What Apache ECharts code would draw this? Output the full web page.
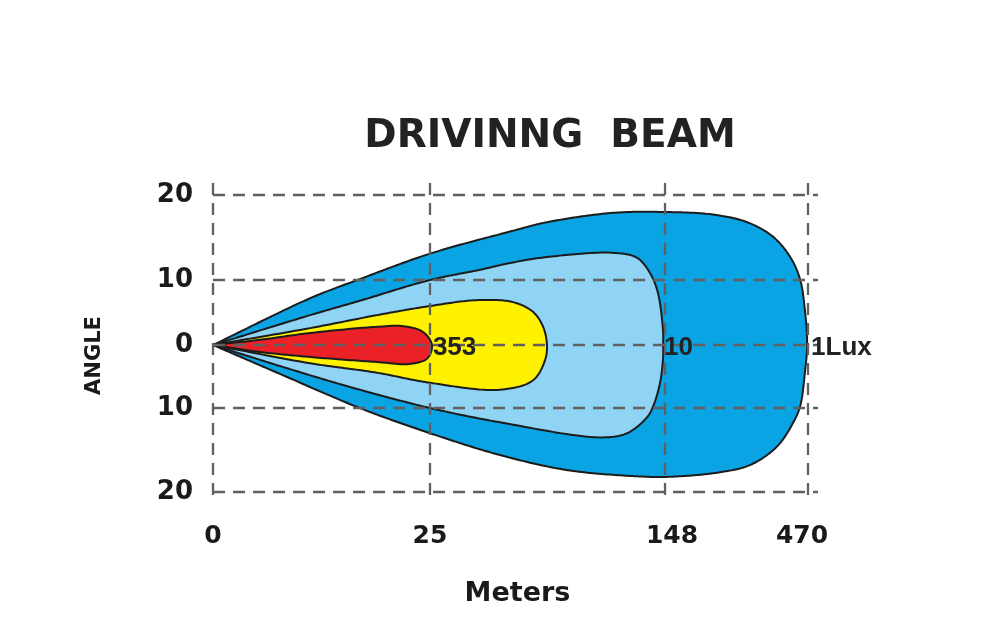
<!DOCTYPE html>
<html><head><meta charset="utf-8">
<script src="https://cdn.jsdelivr.net/npm/echarts@6/dist/echarts.min.js"></script>
<style>html,body{margin:0;padding:0;background:#fff}#chart{width:1000px;height:634px}</style>
</head><body><div id="chart"></div>
<script>
// ---------- data ----------
const titleText = 'DRIVINNG  BEAM';
const xAxisName = 'Meters';
const yAxisName = 'ANGLE';
const xTickValues = [0, 25, 148, 470];
const xTickLabels = ['0', '25', '148', '470'];
const yTickValues = [20, 10, 0, -10, -20];
const yTickLabels = ['20', '10', '0', '10', '20'];

// contours: [meters, degrees], closed loop starting at the lamp (origin)
const beam1Lux = [
  [0,0],[11.2,7.2],[16.9,10.1],[25,13.1],[66.9,15.7],[86.2,16.8],[120.8,17.9],[148,18.0],
  [256,17.7],[333,16.8],[391,15.1],[430,12.7],[452,10.1],[463,5.4],[468,0],
  [463,-4.4],[452,-9.8],[436,-11.8],[400,-14.6],[339,-16.8],[265,-17.7],[152,-18.2],[131,-18.1],
  [97,-17.4],[61.6,-15.6],[25,-13.0],[16.9,-10.0],[7.4,-4.4]
];
const beam10Lux = [
  [0,0],[11.2,4.6],[16.9,6.8],[25,10.0],[51.2,11.2],[66.9,12.0],[86.2,12.7],[120.8,13.2],[133.4,12.6],
  [140.2,10.8],[144.3,8.0],[147,2.0],[147,0],
  [147,-1.9],[145.4,-6.0],[141.7,-9.8],[138.6,-11.1],[128.1,-13.0],[114,-13.5],[61.6,-11.7],
  [25,-10.0],[15.0,-6.35],[7.4,-3.2]
];
const beamMid = [
  [0,0],[11.2,2.6],[18.9,4.6],[25,6.0],[49.6,6.9],[68.4,6.6],[78.9,5.1],[84.2,2.8],[86.2,0],
  [85.2,-2.4],[78.9,-5.6],[61.6,-7.1],[25,-6.0],[18.9,-4.4],[11.2,-2.9]
];
const beam353Lux = [
  [0,0],[5.4,0.8],[11.2,1.85],[18.9,2.8],[21.9,2.9],[24.2,2.0],[26,0],
  [24.7,-2.1],[22.7,-3.0],[18.9,-2.7],[11.2,-1.9],[5.4,-1.1]
];
const contourLabels = ['1Lux', '10', '', '353'];

// ---------- piecewise axis scale (chart's non-linear printed scale) ----------
const X_STOPS = [0, 36.47, 75.97, 100];
const Y_STOPS = [100, 71.38, 49.49, 28.28, 0];
function piecewise(v, dom, rng) {
  for (let i = 0; i < dom.length - 1; i++) {
    const a = dom[i], b = dom[i + 1];
    const lo = Math.min(a, b), hi = Math.max(a, b);
    if (v >= lo && v <= hi) return rng[i] + (v - a) / (b - a) * (rng[i + 1] - rng[i]);
  }
  const n = dom.length - 1;
  const i = (Math.abs(v - dom[0]) < Math.abs(v - dom[n])) ? 0 : n - 1;
  return rng[i] + (v - dom[i]) / (dom[i + 1] - dom[i]) * (rng[i + 1] - rng[i]);
}
const xs = m => piecewise(m, xTickValues, X_STOPS);
const ys = d => piecewise(d, yTickValues, Y_STOPS);

function nearestIndex(v, pos) {
  let best = 0;
  pos.forEach((p, i) => { if (Math.abs(p - v) < Math.abs(pos[best] - v)) best = i; });
  return best;
}
const xTickPos = xTickValues.map(xs);
const yTickPos = yTickValues.map(ys);

// centripetal Catmull-Rom outline, sharp corner at point 0
function smoothLoop(pts) {
  const n = pts.length, out = [];
  const dist = (a, b) => Math.max(Math.hypot(b[0] - a[0], b[1] - a[1]), 1e-6);
  for (let i = 0; i < n; i++) {
    const p1 = pts[i], p2 = pts[(i + 1) % n];
    let p0 = pts[(i - 1 + n) % n], p3 = pts[(i + 2) % n];
    if (i === 0) p0 = [2 * p1[0] - p2[0], 2 * p1[1] - p2[1]];
    if ((i + 1) % n === 0) p3 = [2 * p2[0] - p1[0], 2 * p2[1] - p1[1]];
    const d1s = dist(p0, p1), d2s = dist(p1, p2), d3s = dist(p2, p3);
    const d1 = Math.sqrt(d1s), d2 = Math.sqrt(d2s), d3 = Math.sqrt(d3s);
    const c1 = [0, 1].map(k => (d1s * p2[k] - d2s * p0[k] + (2 * d1s + 3 * d1 * d2 + d2s) * p1[k]) / (3 * d1 * (d1 + d2)));
    const c2 = [0, 1].map(k => (d3s * p1[k] - d2s * p3[k] + (2 * d3s + 3 * d3 * d2 + d2s) * p2[k]) / (3 * d3 * (d3 + d2)));
    const steps = 24;
    for (let s = 0; s < steps; s++) {
      const t = s / steps, u = 1 - t;
      out.push([
        u*u*u*p1[0] + 3*u*u*t*c1[0] + 3*u*t*t*c2[0] + t*t*t*p2[0],
        u*u*u*p1[1] + 3*u*u*t*c1[1] + 3*u*t*t*c2[1] + t*t*t*p2[1]
      ]);
    }
  }
  return out;
}

const contours = [beam1Lux, beam10Lux, beamMid, beam353Lux];
const fills = ['#0aa4e4', '#8fd4f5', '#fff200', '#ea2227'];

function contourSeries(points, color, name, z) {
  return {
    type: 'custom', name: name || 'beam', coordinateSystem: 'cartesian2d', z: z, silent: true,
    data: [[xs(points[0][0]), ys(points[0][1])]],
    renderItem: function (params, api) {
      const px = points.map(p => api.coord([xs(p[0]), ys(p[1])]));
      return {
        type: 'polygon',
        shape: { points: smoothLoop(px) },
        style: { fill: color, stroke: '#1c1c1c', lineWidth: 2, lineJoin: 'round' }
      };
    }
  };
}

const gridSeries = {
  type: 'custom', name: 'grid', coordinateSystem: 'cartesian2d', z: 20, silent: true,
  data: [[0, 0]],
  renderItem: function (params, api) {
    const children = [];
    const st = { stroke: '#616161', lineWidth: 2.3, lineDash: [12, 8] };
    const yTop = api.coord([0, 100])[1], yBot = api.coord([0, 0])[1];
    const xL = api.coord([0, 0])[0], xR = api.coord([100, 0])[0];
    xTickPos.forEach(v => {
      const x = api.coord([v, 0])[0];
      children.push({ type: 'line', shape: { x1: x, y1: yTop - 12, x2: x, y2: yBot + 6 }, style: st });
    });
    yTickPos.forEach(v => {
      const y = api.coord([0, v])[1];
      children.push({ type: 'line', shape: { x1: xL, y1: y, x2: xR + 10, y2: y }, style: st });
    });
    return { type: 'group', children: children };
  }
};

const labelSeries = {
  type: 'custom', name: 'labels', coordinateSystem: 'cartesian2d', z: 30, silent: true,
  data: [[0, 0]],
  renderItem: function (params, api) {
    const children = [];
    contours.forEach((c, i) => {
      if (!contourLabels[i]) return;
      let tip = c[0];
      c.forEach(p => {
        if (p[0] > tip[0] || (p[0] === tip[0] && Math.abs(p[1]) < Math.abs(tip[1]))) tip = p;
      });
      const pt = api.coord([xs(tip[0]), ys(tip[1])]);
      children.push({
        type: 'text', x: pt[0] + (i === 0 ? 4 : 1), y: pt[1] + 3,
        style: { text: contourLabels[i], fill: '#222222', font: 'bold 26px "Liberation Sans", Arial, sans-serif',
                 align: 'left', verticalAlign: 'middle' }
      });
    });
    return { type: 'group', children: children };
  }
};

const xLabelFont = { fontFamily: 'DejaVu Sans', fontWeight: 'bold', fontSize: 25, color: '#1a1a1a' };
const chart = echarts.init(document.getElementById('chart'), null, { renderer: 'canvas' });
chart.setOption({
  backgroundColor: '#ffffff',
  animation: false,
  title: {
    text: titleText, left: 545, top: 112, textAlign: 'center',
    textStyle: { fontFamily: 'DejaVu Sans', fontWeight: 'bold', fontSize: 39, color: '#222222' }
  },
  grid: { left: 213, top: 195, width: 595, height: 297 },
  xAxis: {
    type: 'value', min: 0, max: 100,
    name: xAxisName, nameLocation: 'middle', nameGap: 88,
    nameTextStyle: { fontFamily: 'DejaVu Sans', fontWeight: 'bold', fontSize: 27, color: '#1a1a1a', padding: [0, 0, 0, 14] },
    axisLine: { show: false }, axisTick: { show: false }, splitLine: { show: false },
    axisLabel: {
      customValues: xTickPos, margin: 32,
      formatter: v => {
        const i = nearestIndex(v, xTickPos);
        const style = i === 2 ? 'r' : (i === 3 ? 'l' : 'n');
        return '{' + style + '|' + xTickLabels[i] + '}';
      },
      rich: {
        n: Object.assign({}, xLabelFont),
        r: Object.assign({ padding: [0, 0, 0, 14] }, xLabelFont),
        l: Object.assign({ padding: [0, 12, 0, 0] }, xLabelFont)
      },
      fontFamily: 'DejaVu Sans', fontWeight: 'bold', fontSize: 25, color: '#1a1a1a'
    }
  },
  yAxis: {
    type: 'value', min: 0, max: 100,
    name: yAxisName, nameLocation: 'middle', nameGap: 108, nameRotate: 90,
    nameTextStyle: { fontFamily: 'DejaVu Sans', fontWeight: 'bold', fontSize: 21, color: '#1a1a1a', padding: [0, 24, 0, 0] },
    axisLine: { show: false }, axisTick: { show: false }, splitLine: { show: false },
    axisLabel: {
      customValues: yTickPos, margin: 20,
      formatter: v => yTickLabels[nearestIndex(v, yTickPos)],
      fontFamily: 'DejaVu Sans', fontWeight: 'bold', fontSize: 26, color: '#1a1a1a'
    }
  },
  series: [
    contourSeries(beam1Lux, fills[0], '1Lux', 2),
    contourSeries(beam10Lux, fills[1], '10', 3),
    contourSeries(beamMid, fills[2], 'mid', 4),
    contourSeries(beam353Lux, fills[3], '353', 5),
    gridSeries,
    labelSeries
  ]
});
</script>
</body></html>
